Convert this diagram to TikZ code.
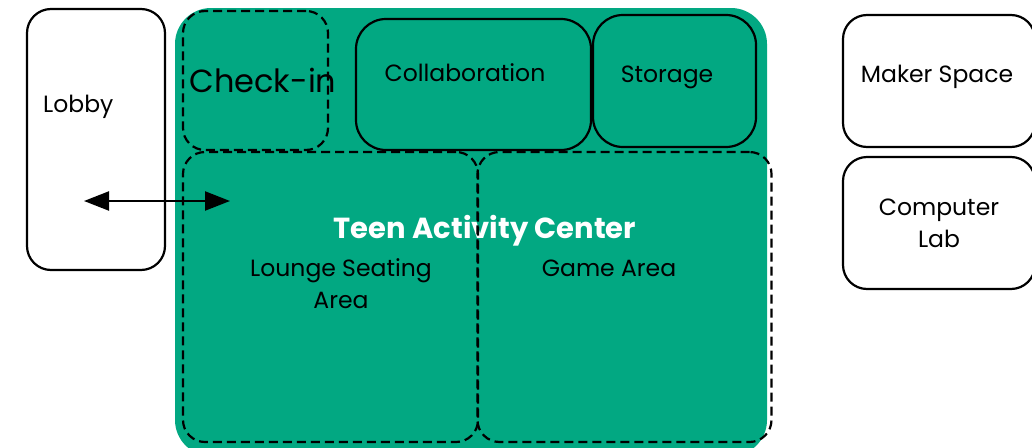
\documentclass[tikz,border=0pt]{standalone}
\usepackage{fontspec}
\setmainfont{Poppins}
\usetikzlibrary{arrows.meta,positioning}
\definecolor{CenterGreen}{HTML}{02A882}
\definecolor{Ink}{HTML}{000000}
\tikzset{
  room/.style={
    rounded corners=24pt, draw=Ink, line width=2.2pt, fill=white,
    inner sep=0pt, align=center, font=\fontsize{23.5}{32}\selectfont
  },
  zone/.style={
    rounded corners=22pt, draw=Ink, line width=2.2pt,
    dash pattern=on 9pt off 5pt, inner sep=0pt, align=center
  },
  innerroom/.style={room, fill=CenterGreen},
  roomtext/.style={align=center, font=\fontsize{23.5}{32}\selectfont, inner sep=0pt},
  passage/.style={{Triangle[length=25pt,width=19pt]}-{Triangle[length=25pt,width=19pt]}, line width=2.2pt, draw=Ink}
}
\begin{document}
\begin{tikzpicture}[x=1pt,y=-1pt]
    \useasboundingbox (0,0) rectangle (1032,447);
    % main space
    \node[fill=CenterGreen,rounded corners=36pt,minimum width=592pt,minimum height=448pt,inner sep=0pt] (center) at (471,232) {};
    \node[text=white,font=\fontsize{29}{34}\selectfont\bfseries] (title) at (485,231) {Teen Activity Center};

    % rooms outside
    \node[room,minimum width=138pt,minimum height=261pt] (lobby) at (96,139.5) {};
    \node[roomtext,anchor=west] (lobbytxt) at (43,107) {Lobby};
    \node[room,minimum width=192pt,minimum height=132pt] (maker) at (939,81) {};
    \node[roomtext] (makertxt) at (937,77) {Maker Space};
    \node[room,minimum width=192pt,minimum height=132pt] (lab) at (939,223) {Computer\\Lab};

    % rooms inside
    \node[innerroom,rounded corners=30pt,minimum width=235pt,minimum height=131pt] (collab) at (473.5,84.5) {};
    \node[roomtext] (collabtxt) at (465,73) {Collaboration};
    \node[innerroom,rounded corners=30pt,minimum width=163pt,minimum height=132pt] (storage) at (674.5,81) {};
    \node[roomtext] (storagetxt) at (667,77) {Storage};

    % zones
    \node[zone,minimum width=145pt,minimum height=139pt] (checkin) at (255.5,80.5) {};
    \node[roomtext,font=\fontsize{32}{36}\selectfont] (checkintxt) at (263,80) {Check-in};
    \node[zone,minimum width=295pt,minimum height=290pt] (lounge) at (330.5,297) {};
    \node[roomtext] (loungetxt) at (341,284) {Lounge Seating\\Area};
    \node[zone,minimum width=294pt,minimum height=290pt] (game) at (624.5,297) {};
    \node[roomtext] (gametxt) at (609,268) {Game Area};

    \coordinate (lobbyend) at (84,201);
    \coordinate (loungeend) at (230,201);
    \draw[passage] (lobbyend) -- (loungeend);
\end{tikzpicture}
\end{document}
